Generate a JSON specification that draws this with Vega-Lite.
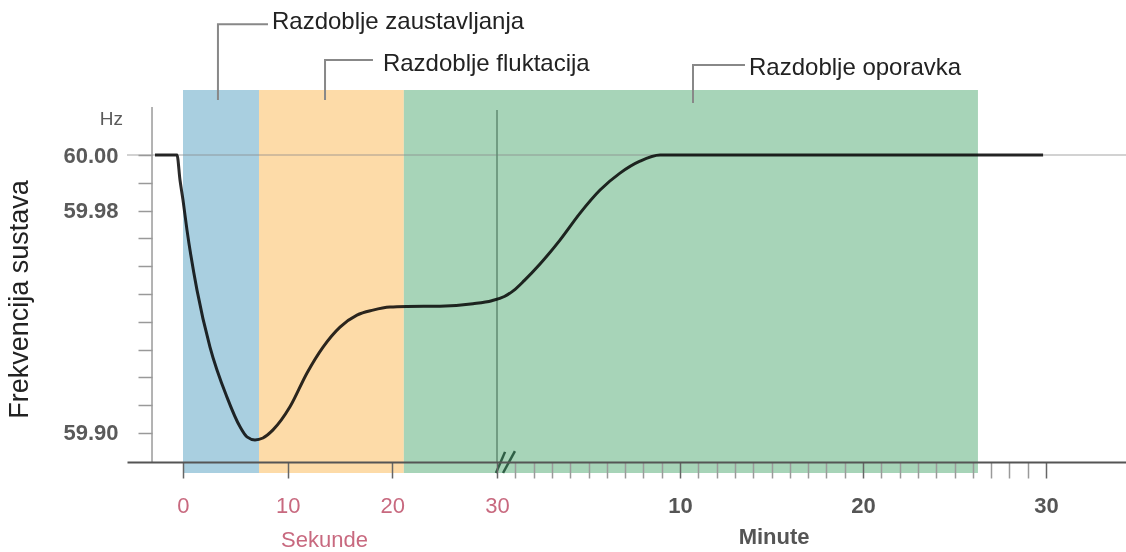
{
  "$schema": "https://vega.github.io/schema/vega-lite/v6.json",
  "width": 999,
  "height": 383,
  "autosize": {"type": "none"},
  "padding": {"left": 127, "top": 90, "right": 0, "bottom": 79},
  "background": "white",
  "config": {"view": {"stroke": null}, "font": "Liberation Sans"},
  "datasets": {
    "bands": [
      {"phase": "zaustavljanje", "x": 0, "x2": 7.26},
      {"phase": "fluktuacija", "x": 7.26, "x2": 21.1},
      {"phase": "oporavak", "x": 21.1, "x2": 56.28}
    ],
    "curve": [
      {"x": -2.675, "y": 60.0},
      {"x": -0.573, "y": 60.0},
      {"x": -0.287, "y": 59.991},
      {"x": 0.0, "y": 59.9838},
      {"x": 0.382, "y": 59.973},
      {"x": 1.338, "y": 59.9514},
      {"x": 2.58, "y": 59.9309},
      {"x": 4.2, "y": 59.9129},
      {"x": 5.45, "y": 59.9022},
      {"x": 6.11, "y": 59.8986},
      {"x": 6.88, "y": 59.8975},
      {"x": 7.64, "y": 59.8982},
      {"x": 8.6, "y": 59.9011},
      {"x": 10.22, "y": 59.9094},
      {"x": 11.85, "y": 59.9216},
      {"x": 13.38, "y": 59.9309},
      {"x": 15.0, "y": 59.9381},
      {"x": 16.62, "y": 59.9424},
      {"x": 18.15, "y": 59.9442},
      {"x": 19.78, "y": 59.9453},
      {"x": 21.4, "y": 59.9455},
      {"x": 24.55, "y": 59.9456},
      {"x": 27.71, "y": 59.9465},
      {"x": 29.5, "y": 59.9476},
      {"x": 30.4, "y": 59.9491},
      {"x": 30.9, "y": 59.9512},
      {"x": 31.5, "y": 59.9549},
      {"x": 32.35, "y": 59.9608},
      {"x": 33.44, "y": 59.9694},
      {"x": 34.54, "y": 59.9791},
      {"x": 35.63, "y": 59.9874},
      {"x": 36.72, "y": 59.9935},
      {"x": 37.81, "y": 59.9978},
      {"x": 38.91, "y": 60.0},
      {"x": 41.09, "y": 60.0},
      {"x": 59.84, "y": 60.0}
    ],
    "leaders": [
      {"g": 1, "i": 0, "x": 3.34, "y": 60.0198},
      {"g": 1, "i": 1, "x": 3.34, "y": 60.0471},
      {"g": 1, "i": 2, "x": 8.12, "y": 60.0471},
      {"g": 2, "i": 0, "x": 13.57, "y": 60.0198},
      {"g": 2, "i": 1, "x": 13.57, "y": 60.0342},
      {"g": 2, "i": 2, "x": 18.15, "y": 60.0342},
      {"g": 3, "i": 0, "x": 40.71, "y": 60.0187},
      {"g": 3, "i": 1, "x": 40.71, "y": 60.0324},
      {"g": 3, "i": 2, "x": 43.55, "y": 60.0324}
    ],
    "labels": [
      {"label": "Razdoblje zaustavljanja", "x": 8.5, "y": 60.0478},
      {"label": "Razdoblje fluktacija", "x": 19.1, "y": 60.0327},
      {"label": "Razdoblje oporavka", "x": 43.77, "y": 60.0313}
    ],
    "slashes": [
      {"x": 29.9, "x2": 30.44, "y": 59.8856, "y2": 59.8932},
      {"x": 30.33, "x2": 30.98, "y": 59.8856, "y2": 59.8935}
    ]
  },
  "layer": [
    {
      "data": {"name": "bands"},
      "mark": {"type": "rect"},
      "encoding": {
        "x": {
          "field": "x", "type": "quantitative",
          "scale": {"domain": [-5.35, 30, 64.37], "range": [0, 370, 999], "nice": false, "zero": false},
          "axis": {
            "values": [0, 10, 20, 30, 31, 32, 33, 34, 35, 36, 37, 38, 39, 40, 41, 42, 43, 44, 45, 46, 47, 48, 49, 50, 51, 52, 53, 54, 55, 56, 57, 58, 59, 60],
            "tickCount": 200,
            "zindex": 1,
            "offset": -11,
            "domainColor": "#555555",
            "domainWidth": 2,
            "tickSize": 16,
            "tickWidth": 1.5,
            "tickColor": {"condition": {"test": "datum.value <= 30 || (datum.value - 30) % 10 == 0", "value": "#666666"}, "value": "#9a9a9a"},
            "labelExpr": "datum.value <= 30 ? (datum.value % 10 == 0 ? format(datum.value, 'd') : '') : ((datum.value - 30) % 10 == 0 ? format(datum.value - 30, 'd') : '')",
            "labelColor": {"condition": {"test": "datum.value <= 30", "value": "#c8697f"}, "value": "#555555"},
            "labelFontWeight": {"condition": {"test": "datum.value <= 30", "value": "normal"}, "value": "bold"},
            "labelFontSize": 22,
            "labelPadding": 17,
            "labelOverlap": false,
            "labelFlush": false,
            "labelBound": false,
            "grid": false,
            "title": ""
          }
        },
        "x2": {"field": "x2"},
        "y": {
          "datum": 60.0234, "type": "quantitative",
          "scale": {"domain": [59.8856, 60.0234], "nice": false, "zero": false},
          "axis": {
            "values": [59.9, 59.91, 59.92, 59.93, 59.94, 59.95, 59.96, 59.97, 59.98, 59.99, 60.0],
            "tickCount": 200,
            "zindex": 1,
            "offset": -25,
            "domain": false,
            "tickSize": 14,
            "tickWidth": 1.5,
            "tickColor": "#999999",
            "labelExpr": "abs(datum.value - 60) < 0.001 ? '60.00' : (abs(datum.value - 59.98) < 0.001 ? '59.98' : (abs(datum.value - 59.9) < 0.001 ? '59.90' : ''))",
            "labelFontSize": 22,
            "labelFontWeight": "bold",
            "labelColor": "#5a5a5a",
            "labelPadding": 20,
            "labelOverlap": false,
            "labelBound": false,
            "grid": false,
            "title": "Frekvencija sustava",
            "titleFontSize": 27,
            "titleFontWeight": "normal",
            "titleColor": "#222222",
            "titleAngle": -90,
            "titleX": -133,
            "titleY": 209,
            "titleAlign": "center",
            "titleBaseline": "middle"
          }
        },
        "y2": {"datum": 59.8856},
        "color": {
          "field": "phase", "type": "nominal",
          "scale": {"domain": ["zaustavljanje", "fluktuacija", "oporavak"], "range": ["#a9cfe0", "#fddba8", "#a7d4b8"]},
          "legend": null
        }
      }
    },
    {
      "data": {"values": [{}]},
      "mark": {"type": "rule", "color": "#8a8a8a", "opacity": 0.5, "strokeWidth": 1.5},
      "encoding": {
        "y": {"datum": 60.0, "type": "quantitative"}
      }
    },
    {
      "data": {"values": [{}]},
      "mark": {"type": "rule", "color": "#9a9a9a", "strokeWidth": 1.5},
      "encoding": {
        "x": {"datum": -2.96, "type": "quantitative"},
        "y": {"datum": 60.0173, "type": "quantitative"},
        "y2": {"datum": 59.8896}
      }
    },
    {
      "data": {"values": [{}]},
      "mark": {"type": "rule", "color": "#5f8a70", "strokeWidth": 1.5},
      "encoding": {
        "x": {"datum": 30, "type": "quantitative"},
        "y": {"datum": 60.0162, "type": "quantitative"},
        "y2": {"datum": 59.8896}
      }
    },
    {
      "data": {"name": "curve"},
      "mark": {"type": "line", "color": "#2b2b2b", "strokeWidth": 3, "interpolate": "monotone", "blend": "multiply"},
      "encoding": {
        "x": {"field": "x", "type": "quantitative"},
        "y": {"field": "y", "type": "quantitative"}
      }
    },
    {
      "data": {"name": "slashes"},
      "mark": {"type": "rule", "color": "#2f5f45", "strokeWidth": 2.5},
      "encoding": {
        "x": {"field": "x", "type": "quantitative"},
        "x2": {"field": "x2"},
        "y": {"field": "y", "type": "quantitative"},
        "y2": {"field": "y2"}
      }
    },
    {
      "data": {"name": "leaders"},
      "mark": {"type": "line", "color": "#888888", "strokeWidth": 2},
      "encoding": {
        "x": {"field": "x", "type": "quantitative"},
        "y": {"field": "y", "type": "quantitative"},
        "detail": {"field": "g", "type": "nominal"},
        "order": {"field": "i", "type": "quantitative"}
      }
    },
    {
      "data": {"name": "labels"},
      "mark": {"type": "text", "align": "left", "baseline": "middle", "fontSize": 24, "color": "#222222"},
      "encoding": {
        "x": {"field": "x", "type": "quantitative"},
        "y": {"field": "y", "type": "quantitative"},
        "text": {"field": "label"}
      }
    },
    {
      "data": {"values": [{"t": "Hz"}]},
      "mark": {"type": "text", "align": "right", "baseline": "middle", "fontSize": 19, "color": "#5a5a5a"},
      "encoding": {
        "x": {"datum": -5.73, "type": "quantitative"},
        "y": {"datum": 60.01295, "type": "quantitative"},
        "text": {"field": "t"}
      }
    },
    {
      "data": {"values": [{"t": "Sekunde"}]},
      "mark": {"type": "text", "align": "center", "baseline": "middle", "fontSize": 22, "color": "#c8697f"},
      "encoding": {
        "x": {"datum": 13.52, "type": "quantitative"},
        "y": {"datum": 59.8615, "type": "quantitative"},
        "text": {"field": "t"}
      }
    },
    {
      "data": {"values": [{"t": "Minute"}]},
      "mark": {"type": "text", "align": "center", "baseline": "middle", "fontSize": 22, "fontWeight": "bold", "color": "#555555"},
      "encoding": {
        "x": {"datum": 45.14, "type": "quantitative"},
        "y": {"datum": 59.8624, "type": "quantitative"},
        "text": {"field": "t"}
      }
    }
  ]
}
